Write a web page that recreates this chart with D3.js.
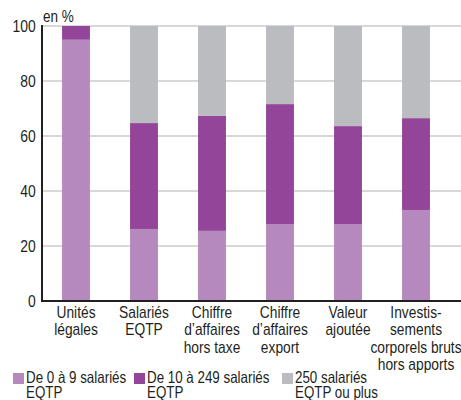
<!DOCTYPE html>
<html>
<head>
<meta charset="utf-8">
<script src="https://cdn.jsdelivr.net/npm/d3@7"></script>
<style>
  body { margin: 0; background: #fff; }
  text { font-family: "Liberation Sans", Arial, sans-serif; fill: #231f20; }
</style>
</head>
<body>
<div id="chart"></div>
<script>
// data (in %)
var categories = [
  ["Unités", "légales"],
  ["Salariés", "EQTP"],
  ["Chiffre", "d\u2019affaires", "hors taxe"],
  ["Chiffre", "d\u2019affaires", "export"],
  ["Valeur", "ajoutée"],
  ["Investis-", "sements", "corporels bruts", "hors apports"]
];
var small = [95, 26.2, 25.5, 28, 28, 33.1];
var medium = [5, 38.5, 41.8, 43.6, 35.6, 33.4];
var large = [0, 35.3, 32.7, 28.4, 36.4, 33.5];
var seriesNames = [["De 0 à 9 salariés", "EQTP"], ["De 10 à 249 salariés", "EQTP"], ["250 salariés", "EQTP ou plus"]];
var yTicks = [0, 20, 40, 60, 80, 100];

var colors = ["#b589bd", "#934599", "#bbbcc0"];

var width = 461, height = 400;
var margin = {top: 26, left: 42, right: 11, bottom: 99};
var narrow = "scale(0.82,1)"; // mimic a narrow sans face

var svg = d3.select("#chart")
  .append("svg")
    .attr("width", width)
    .attr("height", height);

var rows = categories.map(function(c, i) {
  return {key: i, small: small[i], medium: medium[i], large: large[i]};
});
var stack = d3.stack().keys(["small", "medium", "large"]);
var layers = stack(rows);

var x = d3.scaleBand()
  .domain(d3.range(categories.length))
  .range([margin.left, width - margin.right])
  .paddingInner(0.59)
  .paddingOuter(0.295);

var y = d3.scaleLinear()
  .domain([0, 100])
  .range([height - margin.bottom, margin.top]);

// gridlines
svg.append("g")
  .selectAll("line")
  .data(yTicks.filter(function(d) { return d > 0; }))
  .enter()
  .append("line")
    .attr("x1", margin.left)
    .attr("x2", width)
    .attr("y1", function(d) { return y(d); })
    .attr("y2", function(d) { return y(d); })
    .style("stroke", "#cbcbcd")
    .style("stroke-width", 1.5);

// bars
svg.append("g")
  .selectAll("g")
  .data(layers)
  .enter()
  .append("g")
    .style("fill", function(d, i) { return colors[i]; })
  .selectAll("rect")
  .data(function(d) { return d; })
  .enter()
  .append("rect")
    .attr("x", function(d, i) { return x(i); })
    .attr("width", x.bandwidth())
    .attr("y", function(d) { return y(d[1]); })
    .attr("height", function(d) { return y(d[0]) - y(d[1]); });

// y axis
var yAxis = svg.append("g")
  .attr("transform", "translate(" + margin.left + ",0)")
  .call(d3.axisLeft(y).tickValues(yTicks).tickSize(0).tickPadding(7.5));
yAxis.select(".domain").remove();
yAxis.selectAll("text")
  .attr("transform", narrow)
  .style("font-size", "17px")
  .style("font-family", "\"Liberation Sans\", Arial, sans-serif")
  .style("fill", "#231f20");

// axis lines
svg.append("line")
  .attr("x1", margin.left).attr("x2", margin.left)
  .attr("y1", y(100) - 1).attr("y2", y(0))
  .style("stroke", "#231f20").style("stroke-width", 2);
svg.append("line")
  .attr("x1", margin.left - 1).attr("x2", width)
  .attr("y1", y(0)).attr("y2", y(0))
  .style("stroke", "#231f20").style("stroke-width", 2);

// unit label
svg.append("g")
  .attr("transform", "translate(" + (margin.left + 1) + ",22)")
  .append("text")
    .attr("transform", narrow)
    .style("font-size", "16.5px")
    .text("en %");

// category labels
svg.append("g")
  .selectAll("g")
  .data(categories)
  .enter()
  .append("g")
    .attr("transform", function(d, i) { return "translate(" + (x(i) + x.bandwidth() / 2) + ",318)"; })
  .append("text")
    .attr("text-anchor", "middle")
    .attr("transform", narrow)
    .style("font-size", "16.8px")
  .selectAll("tspan")
  .data(function(d) { return d; })
  .enter()
  .append("tspan")
    .attr("x", 0)
    .attr("dy", function(d, j) { return j === 0 ? 0 : 17.4; })
    .text(function(d) { return d; });

// legend
var legendX = [13, 134, 282];
var legend = svg.append("g")
  .selectAll("g")
  .data(seriesNames)
  .enter()
  .append("g")
    .attr("transform", function(d, i) { return "translate(" + legendX[i] + ",373)"; });
legend.append("rect")
  .attr("width", 11)
  .attr("height", 11)
  .style("fill", function(d, i) { return colors[i]; });
legend.append("g")
  .attr("transform", "translate(13,9.5)")
  .append("text")
    .attr("transform", narrow)
    .style("font-size", "16.3px")
  .selectAll("tspan")
  .data(function(d) { return d; })
  .enter()
  .append("tspan")
    .attr("x", 0)
    .attr("dy", function(d, j) { return j === 0 ? 0 : 16; })
    .text(function(d) { return d; });
</script>
</body>
</html>
